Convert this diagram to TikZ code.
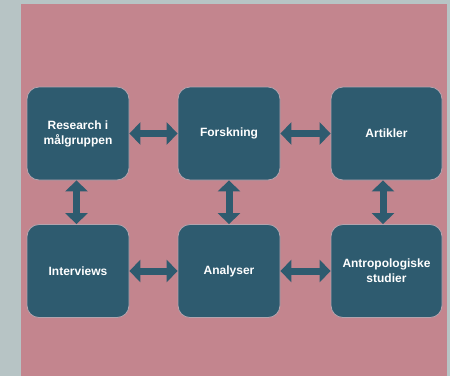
\documentclass[tikz,border=0pt]{standalone}
\usepackage{fontspec}
\setmainfont{Liberation Sans}
\usepackage{xcolor}
\usetikzlibrary{arrows.meta}
\definecolor{boxteal}{HTML}{2E5B6F}
\definecolor{bgpink}{HTML}{C3858E}
\definecolor{framegrey}{HTML}{B7C4C5}
\definecolor{edgegrey}{HTML}{B3A4AE}

\begin{document}
\begin{tikzpicture}[x=1pt,y=-1pt,
  box/.style={draw=edgegrey, line width=0.8pt, fill=boxteal, rounded corners=12pt,
    minimum width=102pt, minimum height=93pt, align=center, text=white,
    font=\bfseries\fontsize{12}{15}\selectfont},
  link/.style={boxteal, line width=7pt,
    {Triangle[length=11pt,width=22pt]}-{Triangle[length=11pt,width=22pt]}}]
% Background
\fill[framegrey] (0,0) rectangle (450,376);
\fill[bgpink] (21,4) rectangle (447,376);
\useasboundingbox (0,0) rectangle (450,376);
% Boxes
\node[box] (research) at (78,133.5) {Research i\\målgruppen};
\node[box] (forskning) at (229,133.5) {Forskning};
\node[box, minimum width=111pt] (artikler) at (386.5,133.5) {Artikler};
\node[box] (interviews) at (78,271) {Interviews};
\node[box] (analyser) at (229,271) {Analyser};
\node[box, minimum width=111pt] (antro) at (386.5,271) {Antropologiske\\studier};
% Arrows
\draw[link] (research) -- (forskning);
\draw[link] (forskning) -- (artikler);
\draw[link] (interviews) -- (analyser);
\draw[link] (analyser) -- (antro);
\draw[link] ([xshift=-1.5pt]research.south) -- ([xshift=-1.5pt]interviews.north);
\draw[link] (forskning) -- (analyser);
\draw[link] ([xshift=-3.5pt]artikler.south) -- ([xshift=-3.5pt]antro.north);
\end{tikzpicture}
\end{document}
